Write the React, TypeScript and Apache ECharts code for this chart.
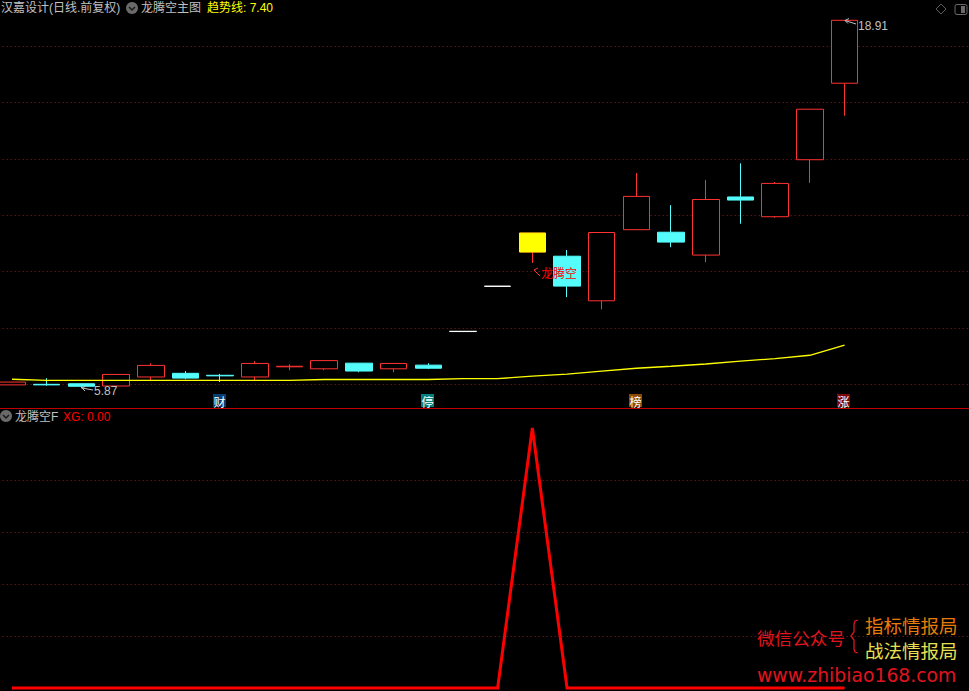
import React, { useEffect, useRef } from "react";
import * as echarts from "echarts";

const categories = Array.from({ length: 29 }, (_, i) => String(i + 1));
const opens = [5.99, 6.01, 6.03, 5.95, 6.27, 6.40, 6.33, 6.27, 6.63, 6.56, 6.76, 6.56, 6.69, 7.89, 9.49, 10.70, 10.55, 8.97, 11.49, 11.40, 10.59, 12.65, 11.95, 13.97, 16.68];
const closes = [6.09, 5.99, 5.94, 6.36, 6.68, 6.23, 6.31, 6.75, 6.65, 6.85, 6.48, 6.75, 6.58, 7.88, 9.48, 11.37, 9.49, 11.39, 12.67, 11.05, 12.56, 12.54, 13.13, 15.76, 18.91];
const lows = [5.99, 5.96, 5.87, 5.95, 6.16, 6.19, 6.09, 6.16, 6.51, 6.51, 6.44, 6.44, 6.55, 7.88, 9.48, 10.31, 9.10, 8.67, 11.49, 10.87, 10.34, 11.70, 11.91, 13.15, 15.53];
const highs = [6.10, 6.23, 6.03, 6.36, 6.75, 6.48, 6.38, 6.83, 6.72, 6.85, 6.76, 6.75, 6.76, 7.89, 9.49, 11.37, 10.77, 11.39, 13.50, 12.36, 13.25, 13.84, 13.18, 15.76, 18.91];
const kinds = ["r", "c", "c", "r", "r", "c", "c", "r", "r", "r", "c", "r", "c", "w", "w", "y", "c", "r", "r", "c", "r", "c", "r", "r", "r"];
const trend = [6.19, 6.15, 6.15, 6.15, 6.15, 6.15, 6.15, 6.15, 6.15, 6.18, 6.18, 6.18, 6.18, 6.21, 6.21, 6.30, 6.37, 6.48, 6.58, 6.65, 6.73, 6.83, 6.92, 7.04, 7.40];
const xg = [0, 0, 0, 0, 0, 0, 0, 0, 0, 0, 0, 0, 0, 0, 0, 1, 0, 0, 0, 0, 0, 0, 0, 0, 0];

const RED = "#FF3232";
const CYAN = "#54FCFC";
const GREY = "#C0C0C0";
const DOT = "#941818";
const FONT = '"Liberation Sans","Noto Sans CJK SC",sans-serif';
const CJK = '"Noto Sans CJK SC",sans-serif';

const styleOf = (k: string) => {
  const fill = k === "r" ? "#000" : k === "c" ? CYAN : k === "w" ? "#fff" : "#000";
  const line = k === "r" || k === "y" ? RED : k === "c" ? CYAN : "#fff";
  return { color: fill, color0: fill, borderColor: line, borderColor0: line, borderWidth: 1 };
};

const text = (x: number, y: number, t: string, fill: string, extra: any = {}) => ({
  type: "text",
  x,
  y,
  silent: true,
  style: { text: t, fill, font: `12px ${FONT}`, verticalAlign: "middle", ...extra },
});

const chevronIcon = (cx: number, cy: number) => [
  { type: "circle", shape: { cx, cy, r: 6 }, style: { fill: "#6A6A6A" } },
  {
    type: "polyline",
    shape: { points: [[cx - 3, cy - 1], [cx, cy + 2], [cx + 3, cy - 1]] },
    style: { stroke: "#1A1A1A", fill: "none", lineWidth: 1.5 },
  },
];

const tag = (x: number, t: string, bg: string) => [
  { type: "rect", shape: { x, y: 394, width: 13, height: 13 }, style: { fill: bg } },
  text(x + 0.5, 401, t, "#fff", { font: `12px ${CJK}` }),
];

const arrow = (x1: number, y1: number, x2: number, y2: number, c: string) => [
  { type: "line", shape: { x1, y1, x2, y2 }, style: { stroke: c, lineWidth: 1 } },
  {
    type: "polyline",
    shape: { points: [[x1 + 4, y1 - 2], [x1, y1], [x1 + 3, y1 + 3]] },
    style: { stroke: c, fill: "none", lineWidth: 1 },
  },
];

export default function App() {
  const ref = useRef<HTMLDivElement>(null);
  useEffect(() => {
    const chart = echarts.init(ref.current!, undefined, { renderer: "svg" });
    const hiddenX = (gridIndex: number) => ({
      type: "category" as const,
      gridIndex,
      data: categories,
      boundaryGap: true,
      show: false,
    });
    const yBase = (gridIndex: number, min: number, max: number, interval: number, showMin: boolean) => ({
      type: "value" as const,
      gridIndex,
      min,
      max,
      interval,
      axisLabel: { show: false },
      axisLine: { show: false },
      axisTick: { show: false },
      splitLine: {
        show: true,
        showMinLine: showMin,
        showMaxLine: showMin,
        lineStyle: { color: DOT, width: 1, type: [1, 3] as any },
      },
    });
    const elements: any[] = [
      { type: "line", shape: { x1: 0, y1: 408.5, x2: 969, y2: 408.5 }, style: { stroke: "#C00000", lineWidth: 1 } },

      text(1, 8, "汉嘉设计(日线.前复权)", GREY),
      ...chevronIcon(132, 8),
      text(141, 8, "龙腾空主图", GREY),
      text(207, 8, "趋势线: 7.40", "#FFFF00"),

      { type: "polygon", shape: { points: [[941, 4], [946, 9], [941, 14], [936, 9]] }, style: { fill: "none", stroke: "#5A5A5A", lineWidth: 1 } },
      { type: "rect", shape: { x: 955, y: 4.5, width: 12, height: 10, r: 2 }, style: { fill: "none", stroke: "#6A6A6A", lineWidth: 1 } },
      { type: "rect", shape: { x: 961, y: 6, width: 4, height: 7 }, style: { fill: "#6A6A6A" } },

      ...arrow(845, 20.5, 856, 24, GREY),
      text(858, 26, "18.91", GREY),
      ...arrow(82, 388, 93, 390, GREY),
      text(94, 391, "5.87", GREY),

      ...arrow(534, 270, 540, 276, RED),
      text(541, 272, "龙腾空", "#FF0000", { font: `12px ${CJK}` }),

      ...tag(213, "财", "#0A3E70"),
      ...tag(421, "停", "#067F7F"),
      ...tag(629, "榜", "#8A4A06"),
      ...tag(837, "涨", "#7E0808"),

      ...chevronIcon(6, 416),
      text(15, 417, "龙腾空F", GREY),
      text(63, 417, "XG: 0.00", "#FF0000"),

      text(757, 637, "微信公众号", "#E0141E", { font: `17.6px ${CJK}` }),
      { type: "polyline", shape: { points: [[858, 620], [855, 621], [854, 624], [854, 632], [851, 636], [854, 640], [854, 649], [855, 652], [858, 653]] }, style: { stroke: "#E0141E", fill: "none", lineWidth: 1.3 } },
      text(865, 625, "指标情报局", "#E87C0A", { font: `18.5px ${CJK}` }),
      text(865, 650, "战法情报局", "#E8E050", { font: `18.5px ${CJK}` }),
      text(757, 675, "www.zhibiao168.com", "#E0141E", { font: '18.8px "DejaVu Sans",sans-serif' }),
    ].map((e) => ({ ...e, z: 100 }));
    chart.setOption({
      animation: false,
      backgroundColor: "#000",
      grid: [
        { left: -5.35, top: 46, width: 1006, height: 338.6, outerBoundsMode: "none" },
        { left: -5.35, top: 428, width: 1006, height: 260, outerBoundsMode: "none" },
      ],
      xAxis: [hiddenX(0), hiddenX(1)],
      yAxis: [yBase(0, 6, 18, 2, true), yBase(1, 0, 1, 0.2, false)],
      series: [
        {
          type: "candlestick",
          xAxisIndex: 0,
          yAxisIndex: 0,
          barWidth: 27,
          clip: false,
          data: opens.map((o, i) => ({
            value: [o, closes[i], lows[i], highs[i]],
            itemStyle: styleOf(kinds[i]),
          })),
        },
        {
          type: "candlestick",
          xAxisIndex: 0,
          yAxisIndex: 0,
          barWidth: 27,
          clip: false,
          data: opens.map((o, i) =>
            kinds[i] === "y"
              ? {
                  value: [o, closes[i], o, closes[i]],
                  itemStyle: { color: "#FFFF00", color0: "#FFFF00", borderColor: "#FFFF00", borderColor0: "#FFFF00", borderWidth: 1 },
                }
              : ["-", "-", "-", "-"],
          ),
        },
        {
          type: "line",
          xAxisIndex: 0,
          yAxisIndex: 0,
          data: trend,
          clip: false,
          symbol: "none",
          lineStyle: { color: "#FFFF00", width: 1.3 },
        },
        {
          type: "line",
          xAxisIndex: 1,
          yAxisIndex: 1,
          data: xg,
          clip: false,
          symbol: "none",
          lineStyle: { color: "#FF0000", width: 3, cap: "butt", join: "miter" },
        },
      ],
      graphic: { elements },
    });
    return () => chart.dispose();
  }, []);
  return (
    <div
      ref={ref}
      style={{ position: "absolute", left: 0, top: 0, width: 969, height: 691, background: "#000", overflow: "hidden" }}
    />
  );
}
